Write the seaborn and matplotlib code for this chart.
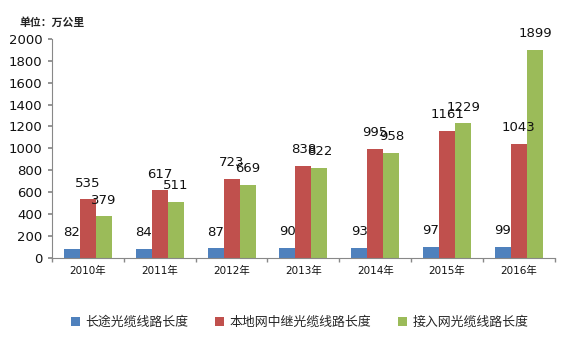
import matplotlib
matplotlib.use("Agg")
import matplotlib.pyplot as plt
import numpy as np
import pandas as pd
import seaborn as sns
from matplotlib.patches import Patch

years = ["2010年", "2011年", "2012年", "2013年", "2014年", "2015年", "2016年"]
long_haul = [82, 84, 87, 90, 93, 97, 99]
local_trunk = [535, 617, 723, 838, 995, 1161, 1043]
access = [379, 511, 669, 822, 958, 1229, 1899]
series_names = ["长途光缆线路长度", "本地网中继光缆线路长度", "接入网光缆线路长度"]
colors = ["#4F81BD", "#C0504D", "#9BBB59"]
y_ticks = list(range(0, 2001, 200))

df = pd.DataFrame({
    "year": years * 3,
    "length": long_haul + local_trunk + access,
    "series": [series_names[0]] * 7 + [series_names[1]] * 7 + [series_names[2]] * 7,
})

sns.set_theme(style="white")
plt.rcParams["font.family"] = ["DejaVu Sans", "Noto Sans CJK SC"]

fig = plt.figure(figsize=(5.65, 3.41), dpi=100)
ax = fig.add_axes([0.092, 0.244, 0.890, 0.642])

sns.barplot(data=df, x="year", y="length", hue="series", palette=colors,
            width=0.67, saturation=1, legend=False, linewidth=0, ax=ax)

for cont in ax.containers:
    ax.bar_label(cont, fmt="%d", padding=7, fontsize=9.5, color="#111111")

ax.set_ylim(0, 2000)
ax.set_xlim(-0.5, len(years) - 0.5)
ax.set_yticks(y_ticks)
ax.set_yticklabels([str(t) for t in y_ticks], fontsize=9.5, color="#111111")
ax.set_xticks(range(len(years)))
ax.set_xticklabels(years, fontsize=7.5, color="#111111")
ax.set_xticks(np.arange(-0.5, len(years), 1), minor=True)
ax.tick_params(axis="x", which="major", length=0, pad=6)
ax.tick_params(axis="x", which="minor", length=3, color="#888888", direction="out", bottom=True)
ax.tick_params(axis="y", length=3, color="#888888", direction="out", left=True, pad=4)
ax.set_xlabel("")
ax.set_ylabel("")
for side in ["top", "right"]:
    ax.spines[side].set_visible(False)
for side in ["left", "bottom"]:
    ax.spines[side].set_color("#888888")
    ax.spines[side].set_linewidth(0.8)

fig.text(0.035, 0.935, "单位：万公里", fontsize=7.8, fontweight="bold", va="center",
         family=["Noto Sans CJK SC"], color="#222222")

handles = [Patch(facecolor=c, edgecolor="none") for c in colors]
fig.legend(handles, series_names, loc="center", bbox_to_anchor=(0.53, 0.055),
           ncol=3, frameon=False, handlelength=0.7, handleheight=0.7,
           handletextpad=0.4, columnspacing=2.1, prop={"family": ["Noto Sans CJK SC"], "size": 9.3})

fig.savefig("out.png", dpi=100)
